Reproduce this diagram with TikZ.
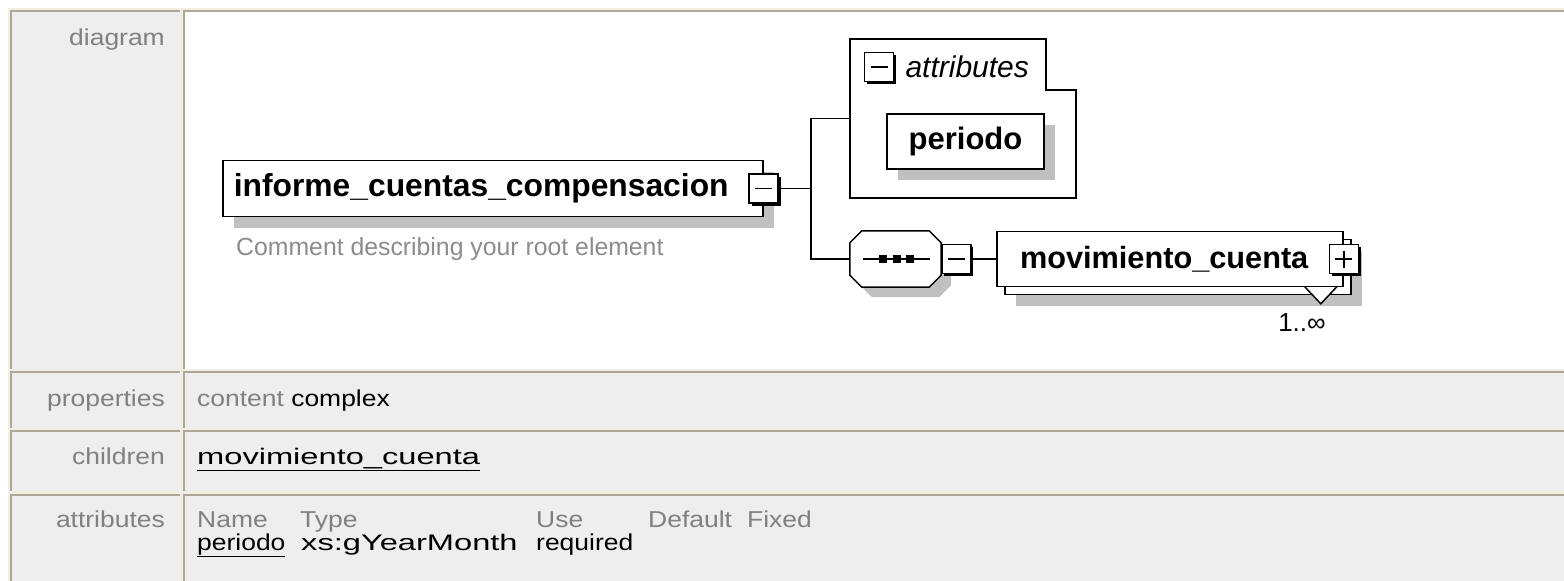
\documentclass[tikz,border=0pt]{standalone}
\usepackage{fontspec}
\setmainfont[FakeStretch=1.15]{Liberation Sans}
\newfontfamily\diagfont{Liberation Sans}
\newfontfamily\widefont[FakeStretch=1.45]{Liberation Sans}
\usetikzlibrary{positioning,shadows,calc}
\definecolor{cellgray}{HTML}{EEEEEE}
\definecolor{celldark}{HTML}{ACA899}
\definecolor{celllight}{HTML}{F1EFE2}
\definecolor{labelgray}{HTML}{808080}
\definecolor{cmtgray}{HTML}{8C8C8C}
\definecolor{shadegray}{HTML}{C0C0C0}
\begin{document}
\begin{tikzpicture}[x=1pt,y=-1pt,
  conn/.style={line width=1.5pt},
  elplain/.style={draw, fill=white, line width=1.6pt, inner xsep=11pt, inner ysep=0pt, align=left, font=\diagfont\fontsize{31.8}{36}\selectfont\bfseries},
  elbox/.style={elplain, drop shadow={shadow xshift=11pt, shadow yshift=-11pt, fill=shadegray, opacity=1}},
  btn/.style={draw, fill=white, line width=1.5pt, minimum size=29pt, inner sep=0pt, drop shadow={shadow xshift=2.5pt, shadow yshift=-2.5pt, fill=black, opacity=1}},
  btnminus/.style={btn, path picture={\draw[line width=1.5pt] ($(path picture bounding box.west)+(6,0)$) -- ($(path picture bounding box.east)+(-6,0)$);}},
  btnplus/.style={btn, path picture={\draw[line width=1.5pt] ($(path picture bounding box.west)+(6,0)$) -- ($(path picture bounding box.east)+(-6,0)$) ($(path picture bounding box.north)+(0,6)$) -- ($(path picture bounding box.south)+(0,-6)$);}},
  lbl/.style={anchor=base east, inner sep=0pt, text=labelgray, font=\fontsize{23}{27}\selectfont},
  txt/.style={anchor=base west, inner sep=0pt, font=\fontsize{23}{27}\selectfont},
  widetxt/.style={txt, font=\widefont\fontsize{22.5}{27}\selectfont}]
\useasboundingbox (0,0) rectangle (1564,581);
\clip (0,0) rectangle (1564,581);
\fill[white] (0,0) rectangle (1564,581);
% table
\fill[celllight] (8,8) rectangle (1570,590);
\foreach \ytop/\ybot/\cfill in {11/368.5/white,372/428/cellgray,431/491/cellgray,494.5/600/cellgray}{
  \fill[cellgray] (11,\ytop) rectangle (180,\ybot);
  \fill[\cfill] (183.5,\ytop) rectangle (1570,\ybot);
  \draw[celldark, line width=2pt] (11,\ybot) |- (180,\ytop);
  \draw[celldark, line width=2pt] (183.5,\ybot) |- (1570,\ytop);
}
\node[lbl] (lbldiag) at (165,45) {diagram};
\node[lbl] (lblprop) at (165,406) {properties};
\node[lbl] (lblchild) at (165,464) {children};
\node[lbl] (lblattr) at (165,527) {attributes};
\node[txt] (propval) at (197,406) {\textcolor{labelgray}{content} complex};
\node[widetxt] (childval) at (197,464) {\underline{movimiento\_cuenta}};
\foreach \hx/\htext in {197/Name,300/Type,536/Use,648/Default,747/Fixed}
  \node[txt, text=labelgray] (hd\htext) at (\hx,527) {\htext};
\node[txt] (attname) at (197,550) {\underline{periodo}};
\node[widetxt] (atttype) at (301,550) {xs:gYearMonth};
\node[txt] (attuse) at (536,550) {required};
% root element
\node[elbox, text width=518pt, minimum height=56pt, anchor=west] (informe) at (222,188.5) {informe\_cuentas\_compensacion};
\node[btnminus] (infbtn) at (informe.east) {};
\node[anchor=base west, inner sep=0pt, text=cmtgray, font=\diagfont\fontsize{24.8}{29}\selectfont] (cmt) at (236,255) {Comment describing your root element};
% attributes group
\node[minimum width=226pt, minimum height=159pt, inner sep=0pt] (attrgrp) at (963,118.5) {};
\draw[line width=1.6pt, fill=white] (attrgrp.north west) -- ($(attrgrp.north east)+(-30,0)$) -- ($(attrgrp.north east)+(-30,51)$) -- ($(attrgrp.north east)+(0,51)$) -- (attrgrp.south east) -- (attrgrp.south west) -- cycle;
\node[btnminus, anchor=north west] (grpbtn) at ($(attrgrp.north west)+(14,13)$) {};
\node[right=11pt of grpbtn, inner sep=0pt, font=\diagfont\fontsize{30}{34}\selectfont\itshape] (grplbl) {attributes};
\node[elbox, minimum width=157pt, minimum height=55pt, font=\diagfont\fontsize{31}{35}\selectfont\bfseries] (periodo) at (965.5,141.5) {periodo};
% sequence
\node[minimum width=91pt, minimum height=56pt, inner sep=0pt] (seq) at (895.5,259) {};
\draw[line width=1.5pt, fill=white, preaction={fill=shadegray, transform canvas={shift={(10,10)}}}] ($(seq.north west)+(12,0)$) -- ($(seq.north east)+(-12,0)$) -- ($(seq.north east)+(0,12)$) -- ($(seq.south east)+(0,-12)$) -- ($(seq.south east)+(-12,0)$) -- ($(seq.south west)+(12,0)$) -- ($(seq.south west)+(0,-12)$) -- ($(seq.north west)+(0,12)$) -- cycle;
\draw[conn] ($(seq.west)+(13,0)$) -- ($(seq.east)+(-11,0)$);
\foreach \dx in {-12.5,1,14.5}
  \fill ($(seq.center)+(\dx,0)$) ++(-4,-4) rectangle ++(8,8);
\node[btnminus, anchor=west] (seqbtn) at (seq.east) {};
% connectors
\coordinate (fork) at (811,188.5);
\draw[conn] (infbtn.east) -- (fork);
\draw[conn] (attrgrp.west) -| (fork) |- (seq.west);
% child element
\node[elbox, minimum width=346pt, minimum height=55pt] (movback) at (1178,267) {};
\draw[line width=1.5pt, fill=white] ($(movback.south east)+(-47,-8.5)$) -- ++(16,17) -- ++(16,-17);
\node[elplain, text width=300pt, inner xsep=23pt, minimum height=55pt, font=\diagfont\fontsize{30.7}{35}\selectfont\bfseries] (mov) at ($(movback.center)+(-8,-8)$) {movimiento\_cuenta};
\node[btnplus] (movbtn) at (mov.east) {};
\draw[conn] (seqbtn.east) -- (mov.west);
\node[anchor=base, inner sep=0pt, font=\diagfont\fontsize{26}{30}\selectfont] (mult) at (1302,331) {1..∞};
\end{tikzpicture}
\end{document}
